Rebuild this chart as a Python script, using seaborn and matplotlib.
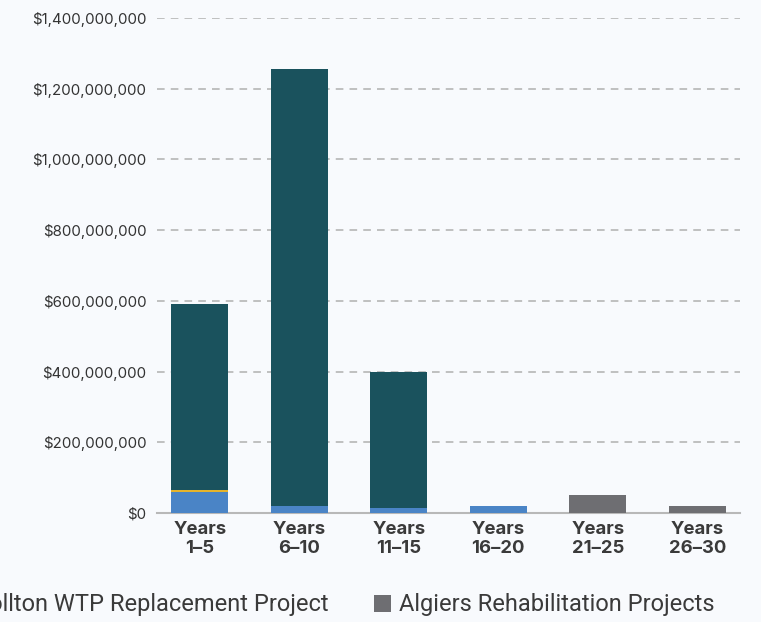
import numpy as np
import pandas as pd
import seaborn as sns
import matplotlib.pyplot as plt
from matplotlib.patches import Patch
from matplotlib.ticker import FuncFormatter

periods = ['Years\n1–5', 'Years\n6–10', 'Years\n11–15', 'Years\n16–20', 'Years\n21–25', 'Years\n26–30']
carrollton_rehab = [60e6, 20e6, 14e6, 20e6, 0, 0]
algiers_wtp      = [5e6, 0, 0, 0, 0, 0]
carrollton_wtp   = [525e6, 1235e6, 384e6, 0, 0, 0]
algiers_rehab    = [0, 0, 0, 0, 51e6, 20e6]

series = [
    ('Carrollton Rehabilitation Projects', carrollton_rehab, '#4a84c6'),
    ('Algiers WTP Improvements',           algiers_wtp,      '#e6b42c'),
    ('Carrollton WTP Replacement Project', carrollton_wtp,   '#1a525d'),
    ('Algiers Rehabilitation Projects',    algiers_rehab,    '#6e6e72'),
]

sns.set_style('white')
plt.rcParams['font.family'] = ['Inter', 'DejaVu Sans']

fig = plt.figure(figsize=(7.61, 6.22), dpi=100, facecolor='#f8fafd')
ax = fig.add_axes([0.2063, 0.1752, 0.7661, 0.7959])
ax.set_facecolor('#f8fafd')

# stacked bars: draw cumulative totals from the top layer down
cum = np.cumsum(np.array([s[1] for s in series], dtype=float), axis=0)
for i in range(len(series) - 1, -1, -1):
    df = pd.DataFrame({'period': periods, 'value': cum[i]})
    sns.barplot(data=df, x='period', y='value', color=series[i][2], saturation=1,
                width=0.575, linewidth=0, ax=ax, zorder=3)

ax.set_ylim(0, 1.4e9)
ax.set_yticks(np.arange(0, 1.4e9 + 1, 2e8))
ax.yaxis.set_major_formatter(FuncFormatter(lambda v, p: '${:,.0f}'.format(v)))
ax.set_xlim(-0.43, 5.43)
ax.grid(axis='y', color='#b0b0b0', linestyle=(0, (5, 4)), linewidth=1.1, zorder=0)
ax.grid(axis='x', visible=False)
for s in ['top', 'right', 'left']:
    ax.spines[s].set_visible(False)
ax.spines['bottom'].set_color('#b8b8b8')
ax.spines['bottom'].set_linewidth(1.5)
ax.set_xlabel('')
ax.set_ylabel('')
ax.tick_params(axis='y', length=0, labelsize=10.8, labelcolor='#333333', pad=7.5)
ax.tick_params(axis='x', length=0, labelsize=13.3, labelcolor='#3a3a3a', pad=6)
for t in ax.get_xticklabels():
    t.set_fontweight('bold')
    t.set_linespacing(1.15)

handles = [Patch(facecolor=c, edgecolor='none', label=n) for n, _, c in series]
fig.legend(handles=handles, ncol=4, loc='center right', bbox_to_anchor=(0.939, 1 - 605 / 622),
           frameon=False, handlelength=0.72, handleheight=0.72, handletextpad=0.35,
           columnspacing=1.9, borderpad=0, borderaxespad=0,
           prop={'family': 'Roboto', 'size': 17}, labelcolor='#3a3a3a')

plt.savefig('out.png', dpi=100, facecolor=fig.get_facecolor())
